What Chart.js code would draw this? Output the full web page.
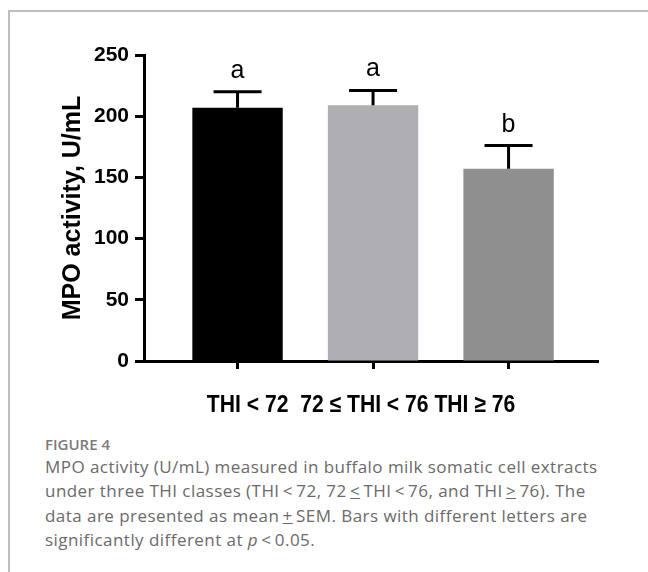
<!DOCTYPE html>
<html>
<head>
<meta charset="utf-8">
<script src="https://cdn.jsdelivr.net/npm/chart.js@4.4.1/dist/chart.umd.min.js"></script>
<style>
  body { margin: 0; background: #fff; }
  #page { position: relative; width: 648px; height: 572px; overflow: hidden; background: #fff; }
  #frame { position: absolute; left: 8px; top: 10px; width: 700px; height: 600px;
           border-top: 2px solid #bdbdbd; border-left: 2px solid #bdbdbd; }
  #chartBox { position: absolute; left: 0; top: 0; width: 648px; height: 425px; }
  #figLabel { position: absolute; left: 45px; top: 434px; font-family: "Open Sans", sans-serif;
              font-size: 15px; font-weight: 600; color: #7b7b7b; }
  #caption { position: absolute; left: 45px; top: 455px; width: 600px; font-family: "Open Sans", sans-serif;
             font-size: 17px; line-height: 24.4px; letter-spacing: 0.45px; color: #6a6a6a; white-space: nowrap; }
</style>
</head>
<body>
<div id="page">
  <div id="frame"></div>
  <div id="chartBox"><canvas id="mpoChart" width="648" height="425"></canvas></div>
  <div id="figLabel">FIGURE 4</div>
  <div id="caption">MPO activity (U/mL) measured in buffalo milk somatic cell extracts<br>under three THI classes (THI&thinsp;&lt;&thinsp;72, 72&thinsp;<u>&lt;</u>&thinsp;THI&thinsp;&lt;&thinsp;76, and THI&thinsp;<u>&gt;</u>&thinsp;76). The<br>data are presented as mean&thinsp;<u>+</u>&thinsp;SEM. Bars with different letters are<br>significantly different at <i>p</i>&thinsp;&lt;&thinsp;0.05.</div>
</div>
<script>
// data
var categories = ['THI < 72', '72 ≤ THI < 76', 'THI ≥ 76'];
var mpoMeans = [207, 209, 157];
var mpoSem = [13, 12, 19];
var sigLetters = ['a', 'a', 'b'];
var barColors = ['#000000', '#afaeb3', '#8f8f8f'];
var yTicks = [0, 50, 100, 150, 200, 250];

var ctx = document.getElementById('mpoChart');

// upward-only error bars, significance letters and the condensed x labels
var errorBarPlugin = {
    id: 'errorBars',
    afterDatasetsDraw: function(chart) {
        var c = chart.ctx;
        var yScale = chart.scales.y;
        var meta = chart.getDatasetMeta(0);
        c.save();
        c.strokeStyle = '#000';
        c.lineWidth = 3;
        meta.data.forEach(function(bar, i) {
            var top = yScale.getPixelForValue(mpoMeans[i] + mpoSem[i]);
            c.beginPath();
            c.moveTo(bar.x, bar.y);
            c.lineTo(bar.x, top);
            c.moveTo(bar.x - 24, top);
            c.lineTo(bar.x + 24, top);
            c.stroke();
            c.fillStyle = '#000';
            c.font = '25px "Liberation Sans", Arial, sans-serif';
            c.textAlign = 'center';
            c.textBaseline = 'alphabetic';
            c.fillText(sigLetters[i], bar.x, top - 14);
        });
        c.restore();
    },
    afterDraw: function(chart) {
        var c = chart.ctx;
        var xScale = chart.scales.x;
        var mid = (xScale.getPixelForValue(0) + xScale.getPixelForValue(categories.length - 1)) / 2 - 12;
        c.save();
        c.fillStyle = '#000';
        c.font = 'bold 24px "Liberation Sans", Arial, sans-serif';
        c.textAlign = 'center';
        c.textBaseline = 'alphabetic';
        c.translate(mid, xScale.bottom + 43);
        c.scale(0.88, 1);
        c.fillText(categories[0] + '  ' + categories[1] + ' ' + categories[2], 0, 0);
        c.restore();
    }
};

var mpoChart = new Chart(ctx, {
    type: 'bar',
    data: {
        datasets: [{
            data: mpoMeans.map(function(v, i) { return { x: i, y: v }; }),
            backgroundColor: barColors,
            borderWidth: 0,
            barPercentage: 0.667,
            categoryPercentage: 1
        }]
    },
    options: {
        responsive: false,
        animation: false,
        layout: { padding: { left: 58, right: 50, top: 55, bottom: 56 } },
        plugins: { legend: { display: false }, tooltip: { enabled: false } },
        scales: {
            x: {
                type: 'linear',
                offset: false,
                min: -0.69,
                max: 2.66,
                afterBuildTicks: function(scale) {
                    scale.ticks = categories.map(function(c, i) { return { value: i }; });
                },
                ticks: { display: false },
                grid: { offset: false, drawOnChartArea: false, drawTicks: true, tickLength: 8, tickWidth: 3, color: '#000' },
                border: { display: true, width: 3, color: '#000' }
            },
            y: {
                min: 0,
                max: 250,
                afterBuildTicks: function(scale) {
                    scale.ticks = yTicks.map(function(v) { return { value: v }; });
                },
                ticks: {
                    padding: 6,
                    color: '#000',
                    font: { family: '"Liberation Sans", Arial, sans-serif', size: 21, weight: 'bold' }
                },
                grid: { drawOnChartArea: false, drawTicks: true, tickLength: 9, tickWidth: 3, color: '#000' },
                border: { display: true, width: 3, color: '#000' },
                title: {
                    display: true,
                    text: 'MPO activity, U/mL',
                    color: '#000',
                    padding: { top: 0, bottom: 0 },
                    font: { family: '"Liberation Sans", Arial, sans-serif', size: 25, weight: 'bold' }
                }
            }
        }
    },
    plugins: [errorBarPlugin]
});
</script>
</body>
</html>
